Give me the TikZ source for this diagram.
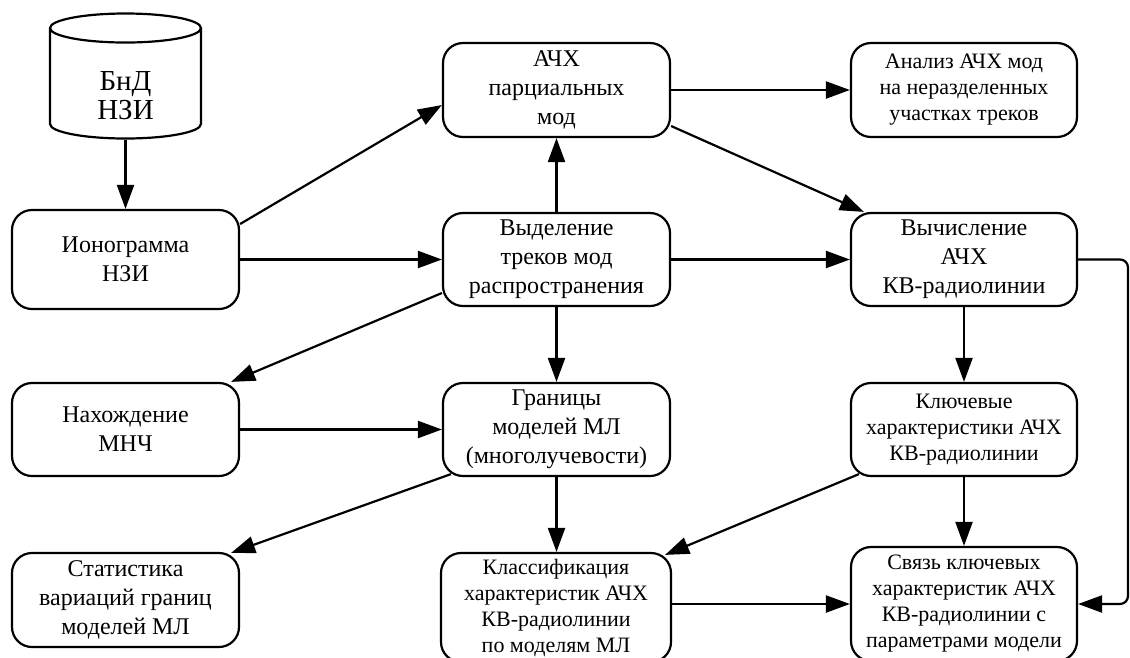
\documentclass[tikz,border=0pt]{standalone}
\usepackage{fontspec}
\setmainfont{Liberation Serif}
\usetikzlibrary{arrows.meta,shapes.geometric,calc}
\begin{document}
\begin{tikzpicture}[x=1pt,y=-1pt,
        arrow/.style = {line width=2.2pt,-{Triangle[length=24pt,width=17pt]}},
        block/.style = {draw,line width=2.2pt,rounded corners=20pt,
            minimum width=227pt,minimum height=93pt,inner sep=2pt,
            align=center,font=\fontsize{24}{29}\selectfont},
        smallblock/.style = {block,font=\fontsize{22}{26}\selectfont}]
    \useasboundingbox (0,0) rectangle (1130,657);

    % database
    \node[cylinder,shape border rotate=90,draw,line width=2.2pt,
          minimum width=151pt,minimum height=125pt,aspect=0.46,
          anchor=shape center,
          font=\fontsize{29}{29}\selectfont] (bnd) at (125.5,76)
        {\raisebox{-19pt}[0pt][0pt]{\begin{tabular}{@{}c@{}}БнД\\НЗИ\end{tabular}}};

    % left column
    \node[block,minimum height=99pt] (iono) at (125.5,259.5) {Ионограмма\\НЗИ};
    \node[block] (mnch) at (125.5,429.5) {Нахождение\\МНЧ};
    \node[block,minimum height=94pt] (stat) at (125.5,600)
        {Статистика\\вариаций границ\\моделей МЛ};

    % middle column
    \node[block,minimum height=94pt] (achm) at (556.5,90) {АЧХ\\парциальных\\мод};
    \node[block] (tracks) at (556.5,259.5)
        {Выделение\\треков мод\\распространения};
    \node[block] (bounds) at (556.5,429.5)
        {Границы\\моделей МЛ\\(многолучевости)};
    \node[smallblock,minimum width=230pt,minimum height=109pt] (classif) at (556,607.5)
        {Классификация\\характеристик АЧХ\\КВ-радиолинии\\по моделям МЛ};

    % right column
    \node[smallblock,minimum width=226pt,minimum height=94pt] (anal) at (964,90)
        {Анализ АЧХ мод\\на неразделенных\\участках треков};
    \node[block,minimum width=226pt] (calc) at (964,259.5)
        {Вычисление\\АЧХ\\КВ-радиолинии};
    \node[smallblock,minimum width=226pt] (keych) at (964,429.5)
        {Ключевые\\характеристики АЧХ\\КВ-радиолинии};
    \node[smallblock,minimum width=226pt,minimum height=114pt] (link) at (964,604)
        {Связь ключевых\\характеристик АЧХ\\КВ-радиолинии с\\параметрами модели};

    \coordinate (loopx) at (1128,430);

    % edges
    \draw[arrow] (bnd.south) -- (iono.north);
    \draw[arrow] ($(iono.east)+(0,-35.5)$) -- ($(achm.west)+(0,15)$);
    \draw[arrow] (iono.east) -- (tracks.west);
    \draw[arrow] (tracks.north) -- (achm.south);
    \draw[arrow] (achm.east) -- (anal.west);
    \draw[arrow] ($(achm.east)+(0,36)$) -- ($(calc.north west)+(14,0)$);
    \draw[arrow] (tracks.east) -- (calc.west);
    \draw[arrow] ($(tracks.west)+(0,33.5)$) -- ($(mnch.north east)+(-9,0)$);
    \draw[arrow] (tracks.south) -- (bounds.north);
    \draw[arrow] (mnch.east) -- (bounds.west);
    \draw[arrow] ($(bounds.south west)+(9,-3)$) -- ($(stat.north east)+(-9,1)$);
    \draw[arrow] (bounds.south) -- (bounds.south |- classif.north);
    \draw[arrow] (calc.south) -- (keych.north);
    \draw[arrow] ($(keych.south west)+(9,-3)$) -- ($(classif.north east)+(-7,3)$);
    \draw[arrow] (keych.south) -- (link.north);
    \draw[arrow] (classif.east |- link.west) -- (link.west);
    \draw[arrow,rounded corners=8pt] (calc.east) -- (calc.east -| loopx)
        -- (link.east -| loopx) -- (link.east);
\end{tikzpicture}
\end{document}
